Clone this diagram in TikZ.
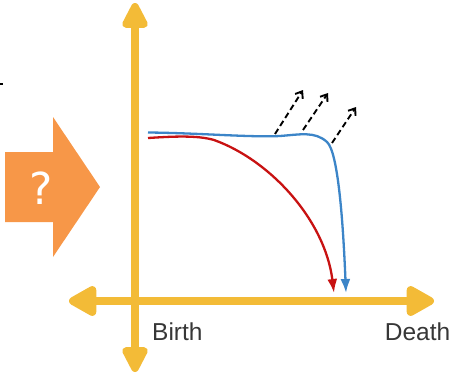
\documentclass[tikz,border=0pt]{standalone}
\usepackage{fontspec}
\setmainfont{Liberation Sans}
\newfontfamily\qfont{DejaVu Sans}
\usetikzlibrary{arrows.meta}
\definecolor{axisyellow}{RGB}{243,187,55}
\definecolor{qorange}{RGB}{247,151,72}
\definecolor{curveblue}{RGB}{60,133,200}
\definecolor{curvered}{RGB}{200,18,18}
\definecolor{labelgrey}{RGB}{55,55,55}
\tikzset{
  axisline/.style={draw=axisyellow, line width=8pt},
  axistipv/.style={-{Triangle[length=30pt,width=28pt,round]}},
  axistiph/.style={-{Triangle[length=32pt,width=33pt,round]}},
  curve/.style={line width=2.3pt},
  escape/.style={draw=black, line width=1.9pt, dash pattern=on 6pt off 3.5pt, -{Straight Barb[length=6pt,width=9pt]}},
  axislabel/.style={font=\fontsize{24.5}{28}\selectfont, text=labelgrey, inner sep=0pt},
}
\begin{document}
\begin{tikzpicture}[x=1pt,y=-1pt]
\useasboundingbox (0,0) rectangle (452,375);
% axes
\coordinate (o) at (135,301);
\coordinate (ytop) at (135,3);
\coordinate (ybot) at (135,372);
\coordinate (xl) at (69,301);
\coordinate (xr) at (434,301);
\draw[axisline, axistipv] (o) -- (ytop);
\draw[axisline, axistipv] (o) -- (ybot);
\draw[axisline, axistiph] (o) -- (xl);
\draw[axisline, axistiph] (o) -- (xr);
% labels
\node[axislabel, anchor=base west] (birth) at (152,340) {Birth};
\node[axislabel, anchor=base east] (death) at (450.5,340) {Death};
% orange arrow
\fill[qorange] (5,152) -- (53,152) -- (53,117) -- (100,187) -- (53,257) -- (53,222) -- (5,222) -- cycle;
\node[text=white, font=\qfont\fontsize{44}{48}\selectfont, inner sep=0pt] (q) at (41,188) {?};
% small mark at left edge
\coordinate (m1) at (0,84);
\coordinate (m2) at (3,84);
\draw[black, line width=1.5pt] (m1) -- (m2);
% curves
\coordinate (bs) at (148,132.5);
\coordinate (be) at (346,293);
\coordinate (rs) at (148,138);
\coordinate (re) at (334,293);
\draw[curve, draw=curveblue, -{Latex[length=14pt,width=10pt,fill=curveblue]}] (bs) .. controls (200,133) and (250,137.5) .. (280,136) .. controls (300,134.5) and (315,131) .. (327,142) .. controls (338,152) and (343,220) .. (be);
\draw[curve, draw=curvered, -{Latex[length=14pt,width=10pt,fill=curvered]}] (rs) .. controls (172,136.5) and (197,135) .. (214,140) .. controls (270,160) and (325,220) .. (re);
% dashed escape arrows
\coordinate (d1s) at (275,134);
\coordinate (d1e) at (303,90);
\coordinate (d2s) at (303,130);
\coordinate (d2e) at (328,93);
\coordinate (d3s) at (332,143);
\coordinate (d3e) at (356,107);
\draw[escape] (d1s) -- (d1e);
\draw[escape] (d2s) -- (d2e);
\draw[escape] (d3s) -- (d3e);
\end{tikzpicture}
\end{document}
